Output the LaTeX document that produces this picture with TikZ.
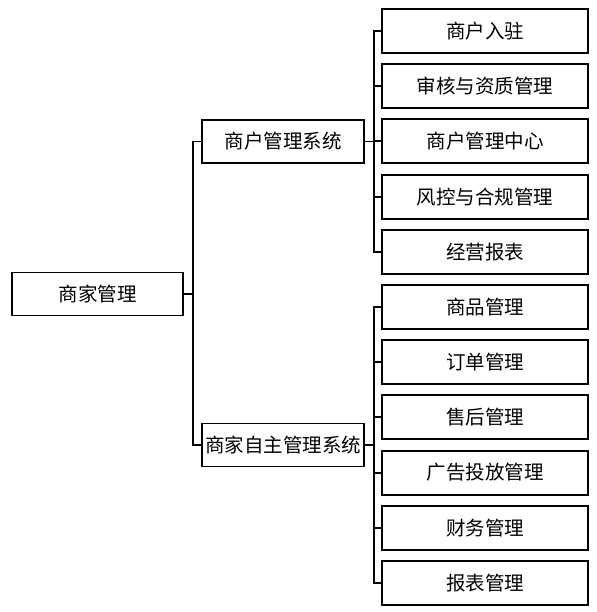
\documentclass[tikz,border=0pt]{standalone}
\usepackage{fontspec}
\newfontfamily\cjk{Noto Sans CJK SC}
\begin{document}
\begin{tikzpicture}[x=1pt,y=-1pt,
  box/.style={draw=black,line width=1.9pt,inner sep=0pt,minimum height=43pt,font=\cjk\fontsize{19.5}{23}\selectfont},
  rootbox/.style={box,minimum width=171pt},
  midbox/.style={box,minimum width=162pt},
  leafbox/.style={box,minimum width=206pt,minimum height=44pt},
  conn/.style={line width=1.9pt,black}]
\useasboundingbox (0,0) rectangle (596,612);
\node[rootbox] (root) at (97.5,294) {商家管理};
\node[midbox] (m1) at (283,141.5) {商户管理系统};
\node[midbox] (m2) at (283,445) {商家自主管理系统};
\foreach \t [count=\i from 0] in {商户入驻,审核与资质管理,商户管理中心,风控与合规管理,经营报表,商品管理,订单管理,售后管理,广告投放管理,财务管理,报表管理}{
  \node[leafbox] (l\i) at (485,31+55.2*\i) {\t};
}
\draw[conn] (root.east) -- ++(9,0) |- (m1.west);
\draw[conn] (root.east) -- ++(9,0) |- (m2.west);
\foreach \i in {0,...,4}{\draw[conn] (m1.east) -- ++(9,0) |- (l\i.west);}
\foreach \i in {5,...,10}{\draw[conn] (m2.east) -- ++(9,0) |- (l\i.west);}
\end{tikzpicture}
\end{document}
